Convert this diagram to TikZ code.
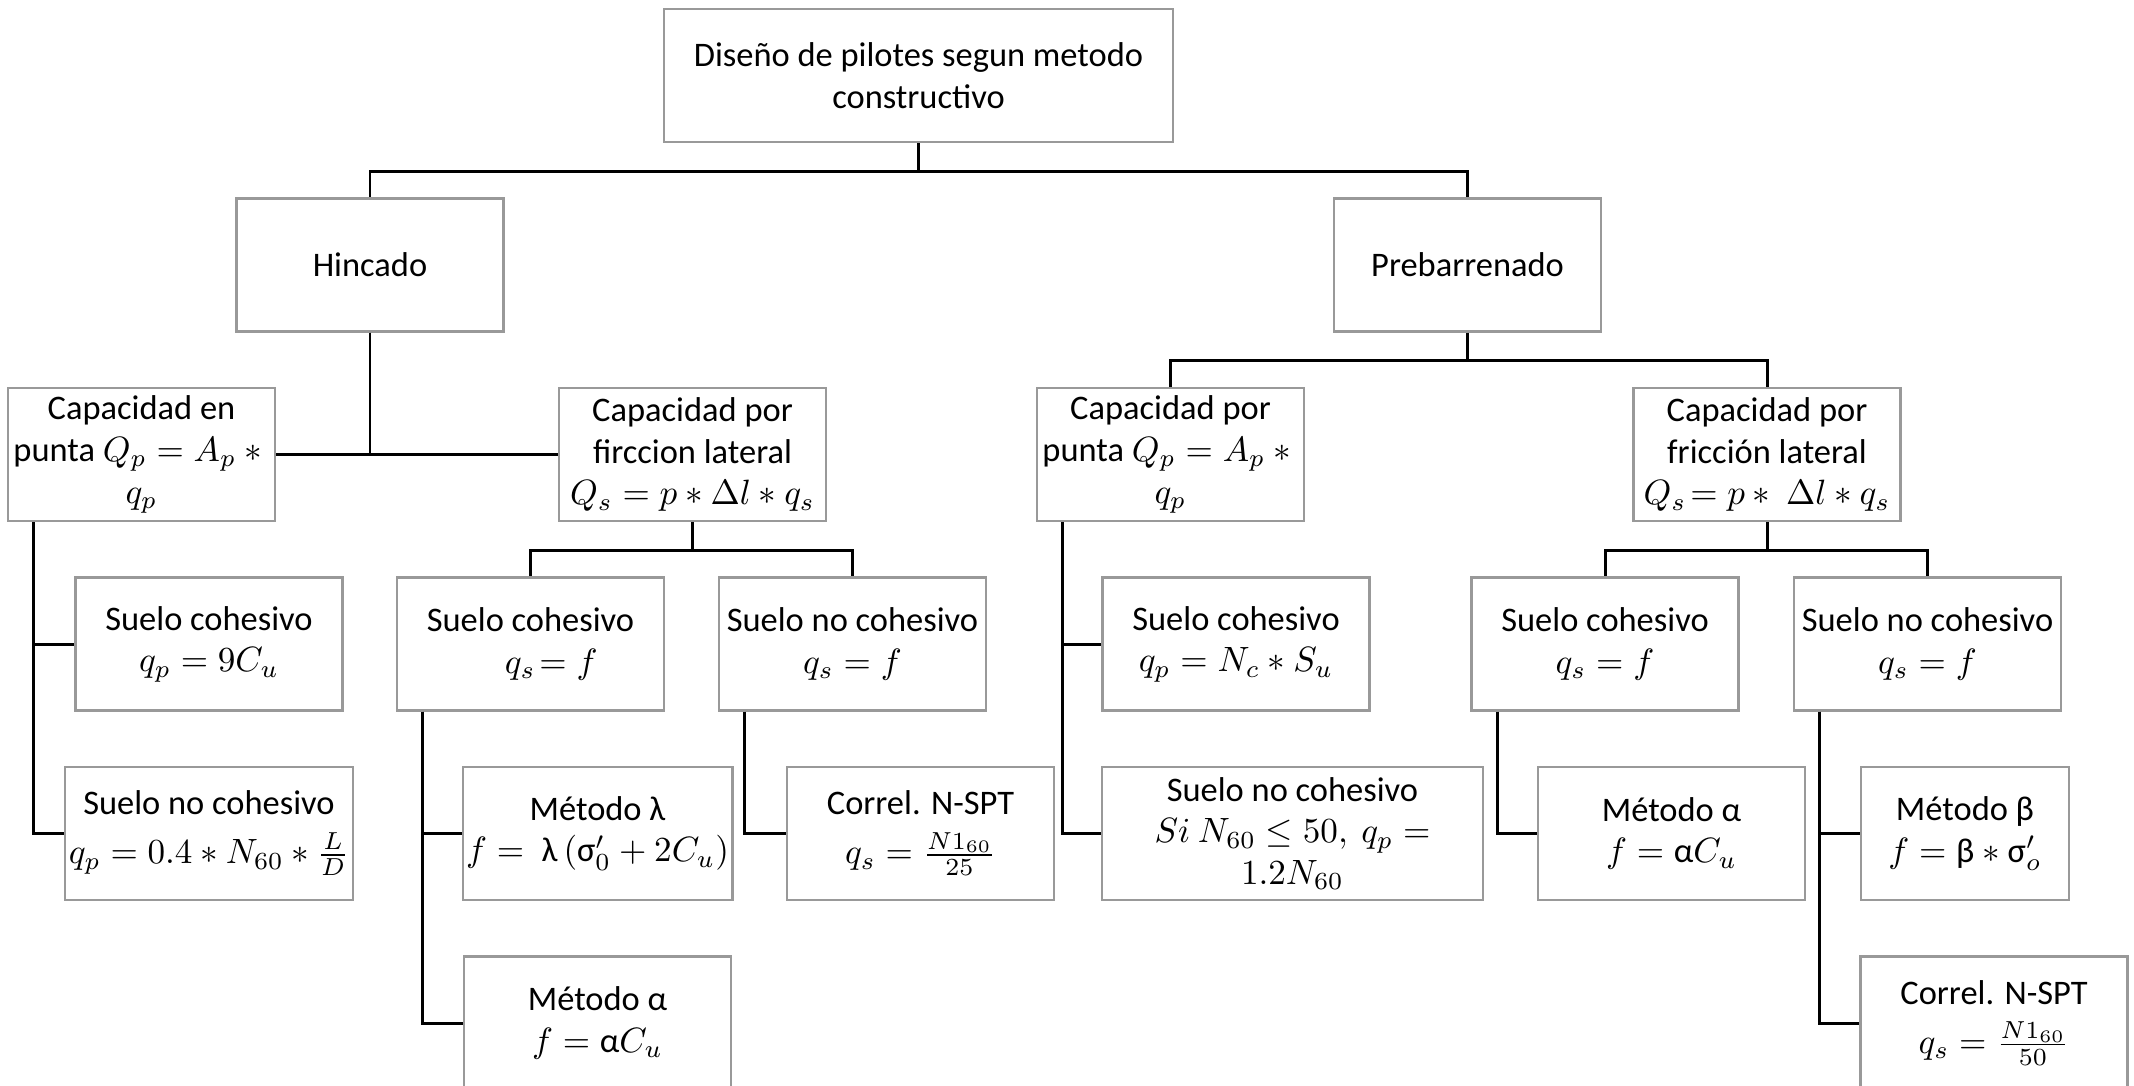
\documentclass[tikz,border=0pt]{standalone}
\usepackage{amsmath}
\usepackage{fontspec}
\setmainfont{Carlito}
\usepackage{tikz}
\usetikzlibrary{positioning,calc,shapes}
\tikzstyle{block} = [draw=black!40, line width=0.6pt, rectangle, align=center,
    minimum height=1.33cm, minimum width=2.67cm, inner sep=1pt,
    font=\fontsize{9.8}{11.9}\selectfont]
\tikzstyle{line} = [draw, line width=0.85pt]

\begin{document}
\begin{tikzpicture}[node distance=1.895cm]
    \useasboundingbox (0,0) rectangle (21.34,-10.86);
    % We start by placing the blocks, level by level
    \node [block, minimum width=5.09cm] at (9.185,-0.755) (root) {Diseño de pilotes segun metodo\\constructivo};
    \node [block, below of=root, xshift=-5.485cm] (hincado) {Hincado};
    \node [block, below of=root, xshift=5.49cm] (prebarr) {Prebarrenado};
    % second level
    \node [block, below of=hincado, xshift=-2.285cm] (punta_h) {Capacidad en\\punta $Q_p = A_p *{}$\\$q_p$};
    \node [block, below of=hincado, xshift=3.225cm] (fric_h) {Capacidad por\\firccion lateral\\$Q_s = p * \Delta l * q_s$};
    \node [block, below of=prebarr, xshift=-2.97cm] (punta_p) {Capacidad por\\punta $Q_p = A_p *{}$\\$q_p$};
    \node [block, below of=prebarr, xshift=2.995cm] (fric_p) {Capacidad por\\fricción lateral\\$Q_s\!= p *\ \Delta l * q_s$};
    % third level
    \node [block, below of=punta_h, xshift=0.675cm] (sc_h) {Suelo cohesivo\\$q_p = 9C_u$};
    \node [block, below of=fric_h, xshift=-1.62cm] (sc_hf) {Suelo cohesivo\\\hspace*{1.2em}$q_s\!= f$};
    \node [block, below of=fric_h, xshift=1.6cm] (snc_hf) {Suelo no cohesivo\\$q_s = f$};
    \node [block, below of=punta_p, xshift=0.655cm] (sc_p) {Suelo cohesivo\\$q_p = N_c * S_u$};
    \node [block, below of=fric_p, xshift=-1.62cm] (sc_pf) {Suelo cohesivo\\$q_s = f$};
    \node [block, below of=fric_p, xshift=1.605cm] (snc_pf) {Suelo no cohesivo\\$q_s = f$};
    % fourth level
    \node [block, below of=sc_h] (snc_h) {Suelo no cohesivo\\[2pt]$q_p = 0.4 * N_{60} * \frac{L}{D}$};
    \node [block, below of=sc_hf, xshift=0.67cm] (lam_h) {Método λ\\$f =\ \text{λ}\,(\text{σ}'_0 + 2C_u)$};
    \node [block, below of=snc_hf, xshift=0.68cm] (spt_h) {Correl. N-SPT\\[2pt]$q_s = \frac{N1_{60}}{25}$};
    \node [block, below of=sc_p, xshift=0.565cm, minimum width=3.81cm] (snc_p) {Suelo no cohesivo\\$Si\ N_{60} \le 50,\ q_p =$\\$1.2N_{60}$};
    \node [block, below of=sc_pf, xshift=0.665cm] (alf_pf) {Método α\\$f = \text{α}C_u$};
    \node [block, below of=snc_pf, xshift=0.375cm, minimum width=2.08cm] (bet_pf) {Método β\\$f = \text{β} * \text{σ}'_o$};
    % last level, cut by the page
    \node [block, below of=lam_h] (alf_h) {Método α\\$f = \text{α}C_u$};
    \node [block, below of=snc_pf, node distance=3.79cm, xshift=0.665cm] (spt_pf) {Correl. N-SPT\\[2pt]$q_s = \frac{N1_{60}}{50}$};
    % Once the nodes are placed, connecting them is easy.
    \draw [line] (root.south) -- ++(0,-0.28) coordinate (j1) -| (hincado.north);
    \draw [line] (j1) -| (prebarr.north);
    \draw [line] (hincado.south) |- (punta_h.east);
    \draw [line] (hincado.south) |- (fric_h.west);
    \draw [line] (prebarr.south) -- ++(0,-0.28) coordinate (j2) -| (punta_p.north);
    \draw [line] (j2) -| (fric_p.north);
    \draw [line] (fric_h.south) -- ++(0,-0.28) coordinate (j3) -| (sc_hf.north);
    \draw [line] (j3) -| (snc_hf.north);
    \draw [line] (fric_p.south) -- ++(0,-0.28) coordinate (j4) -| (sc_pf.north);
    \draw [line] (j4) -| (snc_pf.north);
    % side branches run down the left edge of each parent
    \foreach \a/\b in {punta_h/sc_h, punta_h/snc_h, sc_hf/lam_h, sc_hf/alf_h,
        snc_hf/spt_h, punta_p/sc_p, punta_p/snc_p, sc_pf/alf_pf,
        snc_pf/bet_pf, snc_pf/spt_pf}
        \draw [line] ([xshift=0.27cm]\a.south west) |- (\b.west);
\end{tikzpicture}
\end{document}
